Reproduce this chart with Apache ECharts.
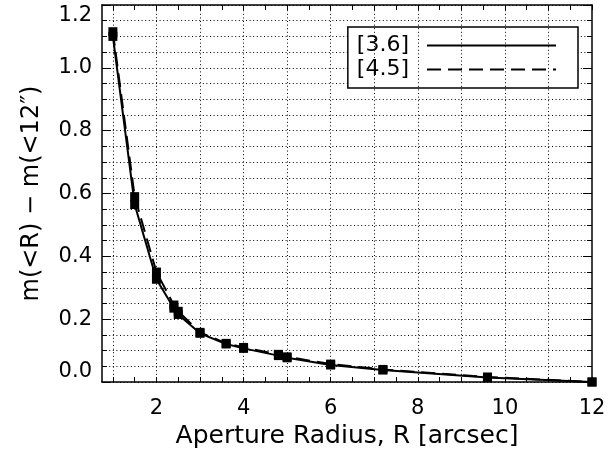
<!DOCTYPE html>
<html>
<head>
<meta charset="utf-8">
<script src="https://cdn.jsdelivr.net/npm/echarts@6/dist/echarts.min.js"></script>
<style>
html, body { margin: 0; padding: 0; background: #fff; }
#main { width: 610px; height: 463px; }
</style>
</head>
<body>
<div id="main"></div>
<script>
// aperture radii in arcsec
var radius = [1, 1.5, 2, 2.4, 2.5, 3, 3.6, 4, 4.8, 5, 6, 7.2, 9.6, 12];
// m(<R) - m(<12") for each band
var band36 = [1.10, 0.565, 0.327, 0.235, 0.215, 0.155, 0.121, 0.107, 0.084, 0.077, 0.054, 0.038, 0.014, 0];
var band45 = [1.115, 0.59, 0.35, 0.245, 0.225, 0.158, 0.123, 0.110, 0.088, 0.080, 0.057, 0.040, 0.016, 0];

var xLabelTicks = [2, 4, 6, 8, 10, 12];
var xGridTicks = [1, 2, 3, 4, 5, 6, 7, 8, 9, 10, 11];
var xMinorTicks = [1, 1.5, 2, 2.5, 3, 3.5, 4, 4.5, 5, 5.5, 6, 6.5, 7, 7.5, 8, 8.5, 9, 9.5, 10, 10.5, 11, 11.5, 12];

var FONT = "DejaVu Sans";
var dotted = { color: "#000", width: 1, type: [1, 2.6] };
var frame = { show: true, onZero: false, lineStyle: { color: "#000", width: 1.5 } };

function pairs(xs, ys) {
  return xs.map(function (x, i) { return [x, ys[i]]; });
}

var myChart = echarts.init(document.getElementById("main"));
var option = {
  backgroundColor: "#fff",
  animation: false,
  grid: { left: 102, right: 18, top: 5, bottom: 81 },
  legend: {
    right: 32,
    top: 27,
    orient: "vertical",
    align: "right",
    itemWidth: 129,
    itemHeight: 10,
    itemGap: 1,
    padding: [7, 21, 7, 9],
    borderColor: "#000",
    borderWidth: 1.5,
    backgroundColor: "#fff",
    itemStyle: { color: "rgba(0,0,0,0)", borderWidth: 0 },
    textStyle: { color: "#000", fontSize: 22, fontFamily: FONT, lineHeight: 23, padding: [0, 13, 0, 0] },
    data: ["[3.6]", "[4.5]"]
  },
  xAxis: [
    {
      type: "value",
      position: "bottom",
      min: 0.75,
      max: 12,
      axisLine: frame,
      axisTick: { show: true, inside: true, length: 5, customValues: xMinorTicks, lineStyle: { color: "#000", width: 1 } },
      axisLabel: { customValues: xLabelTicks, color: "#000", fontSize: 21, fontFamily: FONT, margin: 16 },
      splitLine: { show: false },
      name: "Aperture Radius, R [arcsec]",
      nameLocation: "middle",
      nameGap: 40,
      nameTextStyle: { color: "#000", fontSize: 25, fontFamily: FONT }
    },
    {
      type: "value",
      position: "top",
      min: 0.75,
      max: 12,
      axisLine: frame,
      axisTick: { show: true, inside: true, length: 5, customValues: xMinorTicks, lineStyle: { color: "#000", width: 1 } },
      axisLabel: { show: false },
      splitLine: { show: false }
    }
  ],
  yAxis: [
    {
      type: "value",
      position: "left",
      min: 0,
      max: 1.2,
      interval: 0.2,
      axisLine: frame,
      axisTick: { show: true, inside: true, length: 9, lineStyle: { color: "#000", width: 1 } },
      minorTick: { show: true, splitNumber: 4, length: 5, lineStyle: { color: "#000", width: 1 } },
      axisLabel: {
        color: "#000",
        fontSize: 21,
        fontFamily: FONT,
        margin: 10,
        verticalAlignMinLabel: "bottom",
        verticalAlignMaxLabel: "top",
        formatter: function (v) { return v.toFixed(1); }
      },
      splitLine: { show: true, lineStyle: dotted },
      minorSplitLine: { show: true, lineStyle: dotted },
      name: "m(<R) \u2212 m(<12\u2033)",
      nameLocation: "middle",
      nameGap: 58,
      nameTextStyle: { color: "#000", fontSize: 24, fontFamily: FONT }
    },
    {
      type: "value",
      position: "right",
      min: 0,
      max: 1.2,
      interval: 0.2,
      axisLine: frame,
      axisTick: { show: true, inside: true, length: 9, lineStyle: { color: "#000", width: 1 } },
      minorTick: { show: true, splitNumber: 4, length: 5, lineStyle: { color: "#000", width: 1 } },
      axisLabel: { show: false },
      splitLine: { show: false }
    }
  ],
  series: [
    {
      name: "[3.6]",
      type: "line",
      xAxisIndex: 0,
      yAxisIndex: 0,
      data: pairs(radius, band36),
      symbol: "rect",
      symbolSize: 9,
      itemStyle: { color: "#000" },
      lineStyle: { color: "#000", width: 2, type: "solid" },
      // vertical dotted grid at each integer radius
      markLine: {
        silent: true,
        symbol: ["none", "none"],
        label: { show: false },
        lineStyle: dotted,
        emphasis: { disabled: true },
        data: xGridTicks.map(function (v) { return { xAxis: v }; })
      }
    },
    {
      name: "[4.5]",
      type: "line",
      xAxisIndex: 0,
      yAxisIndex: 0,
      data: pairs(radius, band45),
      symbol: "rect",
      symbolSize: 9,
      itemStyle: { color: "#000" },
      lineStyle: { color: "#000", width: 2, type: [14, 7] }
    }
  ]
};
myChart.setOption(option);
</script>
</body>
</html>
